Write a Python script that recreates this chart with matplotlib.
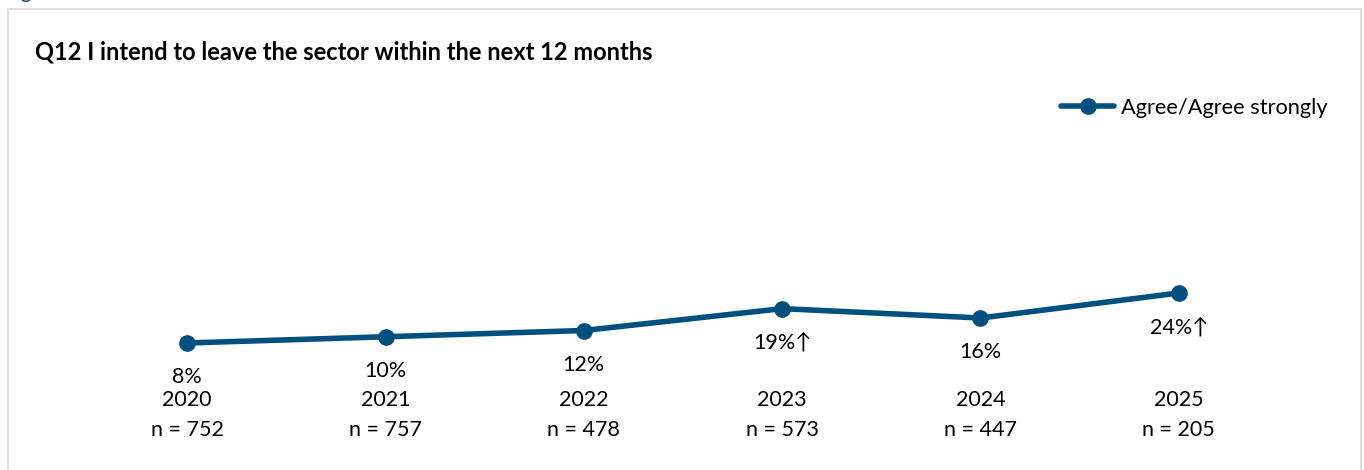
import matplotlib.pyplot as plt
from matplotlib.patches import Rectangle

years = ['2020', '2021', '2022', '2023', '2024', '2025']
n_sizes = [752, 757, 478, 573, 447, 205]
agree = [8, 10, 12, 19, 16, 24]
sig_up = [False, False, False, True, False, True]

line_col = '#00507f'
fonts = ['Lato', 'DejaVu Sans']
plt.rcParams['font.family'] = fonts

W, H = 1364, 470
fig = plt.figure(figsize=(W / 100, H / 100), dpi=100)

# light grey frame around the chart
fig.patches.append(Rectangle((8 / W, -0.05), (1361 - 8) / W, (H - 9) / H + 0.05,
                             transform=fig.transFigure, fill=False,
                             edgecolor='#d9d9d9', lw=1.2))
# cut-off caption above the frame
fig.text(4 / W, 1 + 2 / H, 'Figure', color='#1f4e79', fontsize=15,
         ha='left', va='baseline')

ax = fig.add_axes([88 / W, (H - 368) / H, (1278 - 88) / W, (368 - 55.5) / H])
x = list(range(len(years)))
ax.plot(x, agree, color=line_col, lw=4, marker='o', markersize=11,
        solid_capstyle='round', label='Agree/Agree strongly')
ax.set_xlim(-0.5, 5.5)
ax.set_ylim(0, 100)
ax.axis('off')

for i, v in enumerate(agree):
    lab = f'{v}%' + ('↑' if sig_up[i] else '')
    ax.annotate(lab, (i, v), xytext=(0, -24.5), textcoords='offset points',
                ha='center', va='center', fontsize=15.5)
    ax.annotate(years[i], (i, 0), xycoords=('data', 'axes fraction'),
                xytext=(0, -23), textcoords='offset points',
                ha='center', va='center', fontsize=15.5)
    ax.annotate(f'n = {n_sizes[i]}', (i, 0), xycoords=('data', 'axes fraction'),
                xytext=(0, -44.6), textcoords='offset points',
                ha='center', va='center', fontsize=15.5)

fig.text(35 / W, (H - 52) / H, 'Q12 I intend to leave the sector within the next 12 months',
         fontsize=17, fontweight='bold', ha='left', va='center')

ax.legend(loc='center right', bbox_to_anchor=(1328 / W, (H - 108) / H),
          bbox_transform=fig.transFigure, frameon=False, fontsize=15.7,
          handlelength=2.4, handletextpad=0.35, borderpad=0, borderaxespad=0)

fig.savefig('out.png', dpi=100)
